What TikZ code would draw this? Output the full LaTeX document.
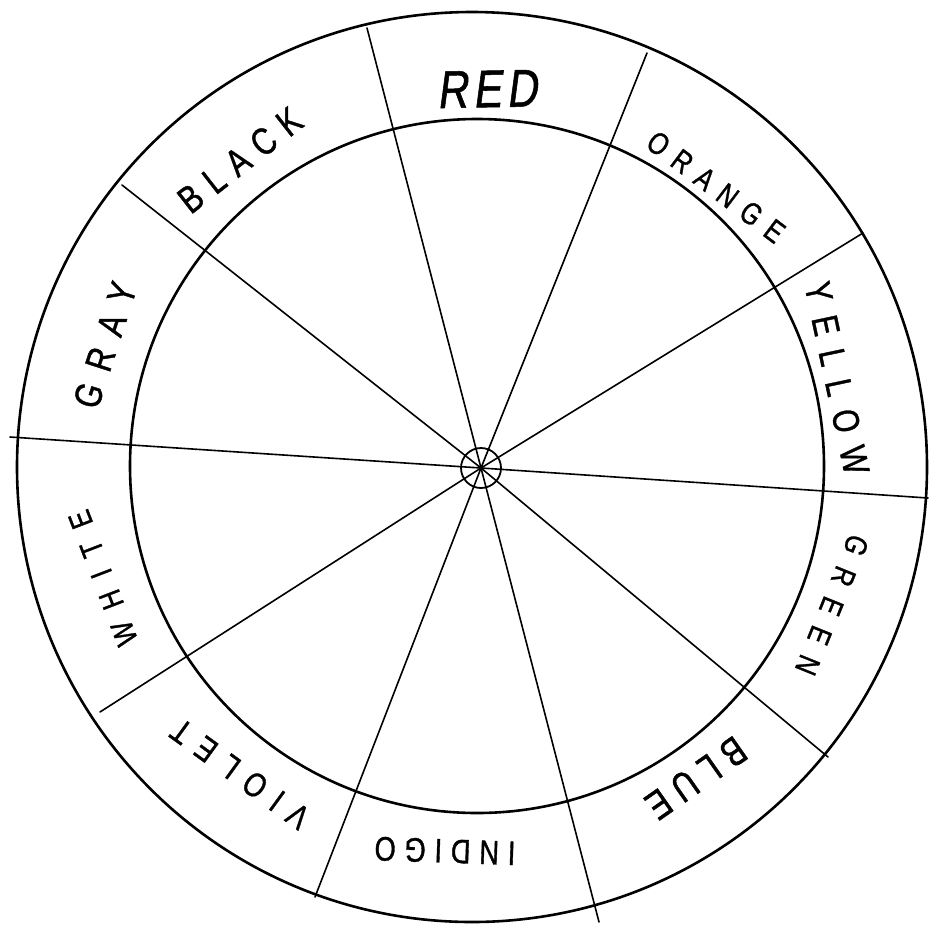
\documentclass[tikz,border=0pt]{standalone}
\usepackage{fontspec}
\newfontfamily\hand[FakeStretch=0.8, FakeBold=1]{Liberation Sans}
\newcommand{\wheeltxt}[3]{{\hand\fontsize{#1}{#1}\selectfont\addfontfeature{LetterSpace=#2}#3}}
\begin{document}
\begin{tikzpicture}[x=1pt,y=-1pt,
  ring/.style={line width=2.6pt},
  spoke/.style={line width=1.6pt, line cap=round},
  lab/.style={inner sep=0pt, anchor=center}]
\useasboundingbox (0,0) rectangle (931,924);
\fill[white] (0,0) rectangle (931,924);
% circles
\coordinate (oc) at (472,467);
\coordinate (ic) at (477,466);
\draw[ring] (oc) circle[radius=455pt];
\draw[ring] (ic) circle[radius=347pt];
\node[circle, draw, line width=1.8pt, minimum size=40pt, inner sep=0pt] (hub) at (481,468) {};
% spoke ends on the outer circle
\coordinate (o1) at (367,28);
\coordinate (o2) at (647,53);
\coordinate (o3) at (863,233);
\coordinate (o4) at (928,498);
\coordinate (o5) at (828,757);
\coordinate (o6) at (599,922);
\coordinate (o7) at (315,897);
\coordinate (o8) at (100,712);
\coordinate (o9) at (10,437);
\coordinate (o10) at (122,185);
\foreach \i in {1,...,10} {\draw[spoke] (hub.center) -- (o\i);}
% labels
\node[lab, rotate=1]    (red)    at (487,89)  {\addfontfeature{FakeSlant=0.15}\wheeltxt{53}{10}{\addfontfeature{FakeSlant=0.15}RED}};
\node[lab, rotate=-37]  (orange) at (716,187) {\wheeltxt{31}{36}{ORANGE}};
\node[lab, rotate=-78]  (yellow) at (837,378) {\wheeltxt{37}{39}{YELLOW}};
\node[lab, rotate=-112] (green)  at (832,605) {\wheeltxt{31}{48}{GREEN}};
\node[lab, rotate=-145] (blue)   at (696,778) {\wheeltxt{40}{24}{BLUE}};
\node[lab, rotate=178]  (indigo) at (445,851) {\wheeltxt{34}{26}{INDIGO}};
\node[lab, rotate=144]  (violet) at (240,774) {\wheeltxt{34}{38}{VIOLET}};
\node[lab, rotate=111]  (white)  at (103,578) {\wheeltxt{31}{50}{WHITE}};
\node[lab, rotate=72]   (gray)   at (105,345) {\wheeltxt{38}{40}{GRAY}};
\node[lab, rotate=38]   (black)  at (240,160) {\wheeltxt{38}{30}{BLACK}};
\end{tikzpicture}
\end{document}
